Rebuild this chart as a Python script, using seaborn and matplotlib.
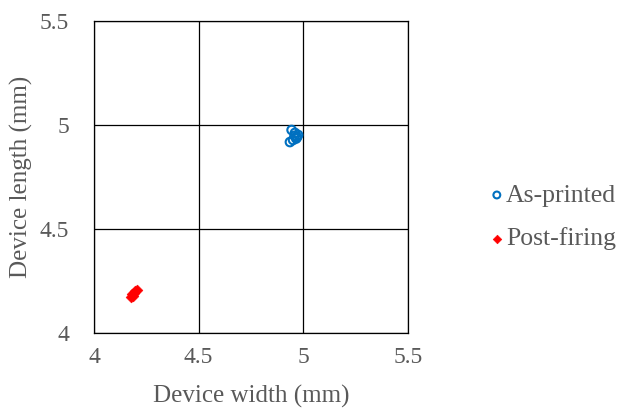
import numpy as np
import pandas as pd
import matplotlib.pyplot as plt
import seaborn as sns

# as-printed devices
printed_w = [4.944, 4.960, 4.975, 4.936, 4.951, 4.970, 4.958, 4.966]
printed_l = [4.976, 4.962, 4.952, 4.918, 4.928, 4.942, 4.948, 4.935]

# post-firing devices
fired_w = [4.177, 4.182, 4.190, 4.198, 4.205, 4.186]
fired_l = [4.173, 4.186, 4.194, 4.200, 4.207, 4.180]

df = pd.DataFrame({
    'w': printed_w + fired_w,
    'l': printed_l + fired_l,
    'series': ['As-printed'] * len(printed_w) + ['Post-firing'] * len(fired_w),
})

sns.set_style('white')
plt.rcParams['font.family'] = ['Liberation Serif', 'DejaVu Serif']

fig = plt.figure(figsize=(6.2, 4.08), dpi=100)
ax = fig.add_axes([94 / 620, 1 - 333 / 408, 314 / 620, 312 / 408])

blue = '#0070C0'
red = '#FF0000'

sub = df[df.series == 'As-printed']
ax.scatter(sub.w, sub.l, s=38, facecolors='none', edgecolors=blue,
           linewidths=1.5, label='As-printed', zorder=3)
sns.scatterplot(data=df[df.series == 'Post-firing'], x='w', y='l', ax=ax,
                marker='D', s=30, color=red, edgecolor=red,
                label='Post-firing', zorder=3)

ax.set_xlim(4, 5.5)
ax.set_ylim(4, 5.5)
ax.set_xticks([4, 4.5, 5, 5.5])
ax.set_yticks([4, 4.5, 5, 5.5])
ax.set_xticklabels(['4', '4.5', '5', '5.5'])
ax.set_yticklabels(['4', '4.5', '5', '5.5'])
ax.grid(True, color='black', linewidth=0.9)
ax.set_axisbelow(True)
for s in ax.spines.values():
    s.set_color('black')
    s.set_linewidth(0.9)

gray = '#595959'
ax.tick_params(axis='both', labelsize=17, colors=gray, length=0)
ax.tick_params(axis='x', pad=10)
ax.tick_params(axis='y', pad=18)
ax.set_xlabel('Device width (mm)', fontsize=18, color=gray)
ax.set_ylabel('Device length (mm)', fontsize=18, color=gray)
ax.xaxis.set_label_coords(0.5, -0.165)
ax.yaxis.set_label_coords(-0.195, 0.5)

ax.get_legend().remove()
h, l = ax.get_legend_handles_labels()
leg = fig.legend(h, l, loc='center left', bbox_to_anchor=(466 / 620, 1 - 217 / 408),
                 frameon=False, fontsize=18.5, handlelength=0.6,
                 handletextpad=0.05, labelspacing=0.8, markerscale=0.8)
for t in leg.get_texts():
    t.set_color(gray)

fig.savefig('out.png', dpi=100)
